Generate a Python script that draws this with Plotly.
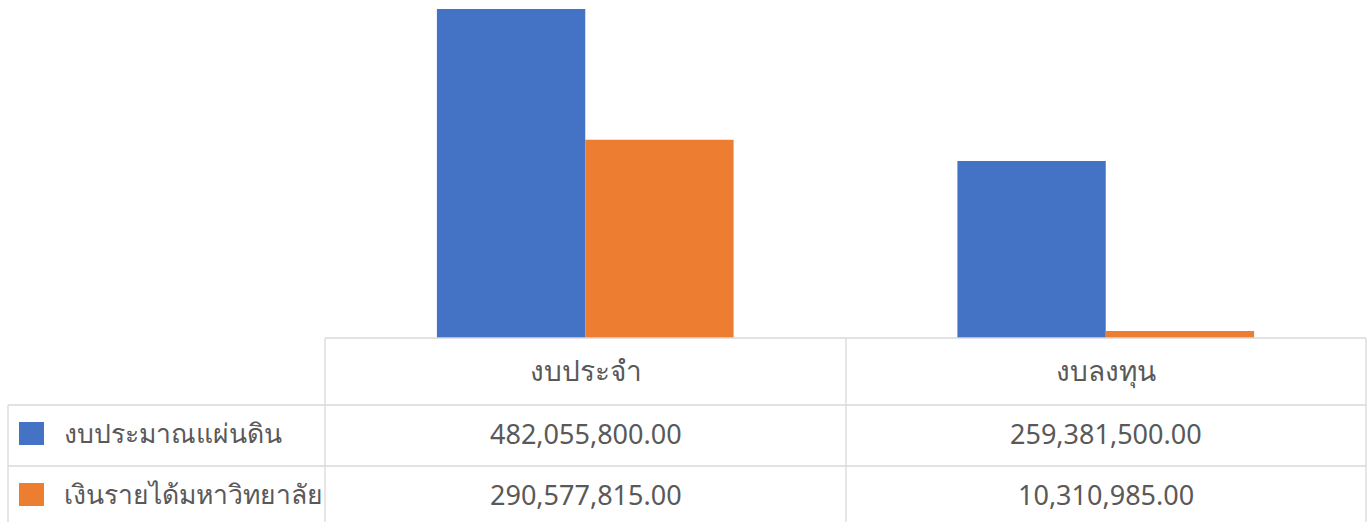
import plotly.graph_objects as go

categories = ["งบประจำ", "งบลงทุน"]
series_names = ["งบประมาณแผ่นดิน", "เงินรายได้มหาวิทยาลัย"]
budget_values = [482055800.00, 259381500.00]
income_values = [290577815.00, 10310985.00]
colors = ["#4472C4", "#ED7D31"]

W, H = 1372, 522
fig = go.Figure()
for name, vals, c in zip(series_names, [budget_values, income_values], colors):
    fig.add_trace(go.Bar(x=categories, y=vals, name=name, marker=dict(color=c, line=dict(width=0)),
                         showlegend=False))

def px(x):
    return x / W

def py(y):
    return (H - y) / H

x_left, x_mid, x_right = 325, 846, 1366
x_table_left = 8
y_base, y_r1, y_r2, y_bot = 338, 405, 466, 530

FONT = "Tahoma, 'Noto Sans', sans-serif"
head_font = dict(family=FONT, color="#595959", size=28)
legend_font = dict(family=FONT, color="#595959", size=26.5)
num_font = dict(family=FONT, color="#595959", size=27)

fig.update_layout(
    width=W, height=H, margin=dict(l=0, r=0, t=0, b=0),
    paper_bgcolor="white", plot_bgcolor="white",
    barmode="group", bargap=0.43, bargroupgap=0,
    xaxis=dict(domain=[px(x_left), px(x_right)], showticklabels=False, showgrid=False,
               zeroline=False, showline=False, ticks=""),
    yaxis=dict(domain=[py(y_base), 1], range=[0, 495.3e6], showticklabels=False,
               showgrid=False, zeroline=False, showline=False),
    font=dict(family=FONT, color="#595959", size=22),
)

line = dict(color="#D9D9D9", width=1.3)
shapes = []
def hline(x0, x1, y):
    shapes.append(dict(type="line", xref="paper", yref="paper", x0=px(x0), x1=px(x1), y0=py(y), y1=py(y), line=line))
def vline(x, y0, y1):
    shapes.append(dict(type="line", xref="paper", yref="paper", x0=px(x), x1=px(x), y0=py(y0), y1=py(y1), line=line))

hline(x_left, x_right, y_base)
hline(x_table_left, x_right, y_r1)
hline(x_table_left, x_right, y_r2)
vline(x_left, y_base, y_bot)
vline(x_mid, y_base, y_bot)
vline(x_right, y_base, y_bot)
vline(x_table_left, y_r1, y_bot)

annotations = []
col_centers = [(x_left + x_mid) / 2, (x_mid + x_right) / 2]
for cat, cx in zip(categories, col_centers):
    annotations.append(dict(text=cat, x=px(cx), y=py(370), xref="paper", yref="paper", font=head_font,
                            showarrow=False, xanchor="center", yanchor="middle"))
row_ys = [433, 494]
for name, vals, c, ry in zip(series_names, [budget_values, income_values], colors, row_ys):
    shapes.append(dict(type="rect", xref="paper", yref="paper", x0=px(19), x1=px(44),
                       y0=py(ry + 12), y1=py(ry - 11), fillcolor=c, line=dict(width=0)))
    annotations.append(dict(text=name, x=px(62), y=py(ry), xref="paper", yref="paper", font=legend_font,
                            showarrow=False, xanchor="left", yanchor="middle"))
    for v, cx in zip(vals, col_centers):
        annotations.append(dict(text=f"{v:,.2f}", x=px(cx), y=py(ry), xref="paper", yref="paper",
                                font=num_font, showarrow=False, xanchor="center", yanchor="middle"))

fig.update_layout(shapes=shapes, annotations=annotations)
fig.write_html("out.html")
